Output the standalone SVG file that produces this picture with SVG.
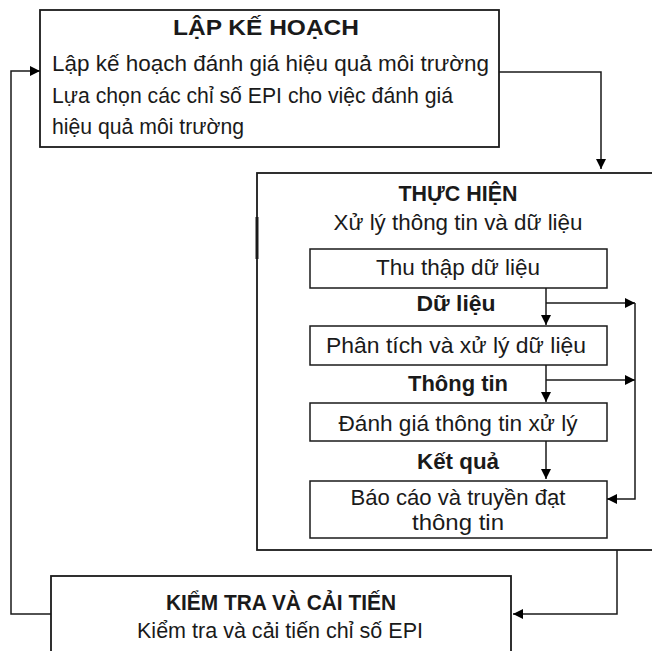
<svg xmlns="http://www.w3.org/2000/svg" width="652" height="651" viewBox="0 0 652 651">
<style>
.box{fill:#fff;stroke:#1a1a1a;stroke-width:1.8}
.ibox{fill:#fff;stroke:#1a1a1a;stroke-width:1.5}
.t{font-family:"Liberation Sans","Open Sans",Arial,sans-serif;font-size:22px;fill:#1a1a1a}
.b{font-weight:bold;font-size:22px}
.c{text-anchor:middle}
.ln{fill:none;stroke:#1a1a1a;stroke-width:1.5}
</style>
<defs>
<marker id="ah" viewBox="0 0 10 10" refX="10" refY="5" markerWidth="11" markerHeight="10" markerUnits="userSpaceOnUse" orient="auto">
<path d="M0,0 L10,5 L0,10 Z" fill="#000"/>
</marker>
</defs>
<rect width="652" height="651" fill="#fff"/>
<g id="plan">
<rect class="box" x="40" y="10" width="459" height="137"/>
<text class="t b c" x="266" y="35" textLength="186" lengthAdjust="spacingAndGlyphs">LẬP KẾ HOẠCH</text>
<text class="t" x="52" y="71" textLength="437" lengthAdjust="spacingAndGlyphs">Lập kế hoạch đánh giá hiệu quả môi trường</text>
<text class="t" x="52" y="103" textLength="401" lengthAdjust="spacingAndGlyphs">Lựa chọn các chỉ số EPI cho việc đánh giá</text>
<text class="t" x="52" y="134" textLength="192" lengthAdjust="spacingAndGlyphs">hiệu quả môi trường</text>
</g>
<g id="do">
<rect class="box" x="257" y="173" width="410" height="377"/>
<line x1="257" y1="217" x2="257" y2="259" stroke="#1a1a1a" stroke-width="3"/>
<text class="t b c" x="458" y="201" textLength="119" lengthAdjust="spacingAndGlyphs">THỰC HIỆN</text>
<text class="t c" x="458" y="230" textLength="249" lengthAdjust="spacingAndGlyphs">Xử lý thông tin và dữ liệu</text>
</g>
<g id="collect">
<rect class="ibox" x="310" y="249" width="297" height="39"/>
<text class="t c" x="458" y="275" textLength="164" lengthAdjust="spacingAndGlyphs">Thu thập dữ liệu</text>
</g>
<g id="analyze">
<rect class="ibox" x="310" y="326" width="297" height="39"/>
<text class="t c" x="456" y="353" textLength="260" lengthAdjust="spacingAndGlyphs">Phân tích và xử lý dữ liệu</text>
</g>
<g id="evaluate">
<rect class="ibox" x="310" y="403" width="297" height="38"/>
<text class="t c" x="458" y="431" textLength="239" lengthAdjust="spacingAndGlyphs">Đánh giá thông tin xử lý</text>
</g>
<g id="report">
<rect class="ibox" x="310" y="481" width="297" height="57"/>
<text class="t c" x="458" y="505" textLength="215" lengthAdjust="spacingAndGlyphs">Báo cáo và truyền đạt</text>
<text class="t c" x="458" y="530" textLength="92" lengthAdjust="spacingAndGlyphs">thông tin</text>
</g>
<g id="check">
<rect class="box" x="51" y="576" width="460" height="90"/>
<text class="t b c" x="281" y="610" textLength="230" lengthAdjust="spacingAndGlyphs">KIỂM TRA VÀ CẢI TIẾN</text>
<text class="t c" x="280" y="638" textLength="286" lengthAdjust="spacingAndGlyphs">Kiểm tra và cải tiến chỉ số EPI</text>
</g>
<g id="connectors">
<path class="ln" d="M499,72 H601 V169" marker-end="url(#ah)"/>
<path class="ln" d="M546,288 V325" marker-end="url(#ah)"/>
<path class="ln" d="M546,303 H635" marker-end="url(#ah)"/>
<path class="ln" d="M546,365 V402" marker-end="url(#ah)"/>
<path class="ln" d="M546,380 H635" marker-end="url(#ah)"/>
<path class="ln" d="M546,441 V479" marker-end="url(#ah)"/>
<path class="ln" d="M635,303 V499 H607" marker-end="url(#ah)"/>
<path class="ln" d="M617,550 V614 H513" marker-end="url(#ah)"/>
<path class="ln" d="M51,614 H11 V71 H40" marker-end="url(#ah)"/>
<text class="t b c" x="456" y="311" textLength="79" lengthAdjust="spacingAndGlyphs">Dữ liệu</text>
<text class="t b c" x="458" y="391" textLength="100" lengthAdjust="spacingAndGlyphs">Thông tin</text>
<text class="t b c" x="458" y="469" textLength="82" lengthAdjust="spacingAndGlyphs">Kết quả</text>
</g>
</svg>
